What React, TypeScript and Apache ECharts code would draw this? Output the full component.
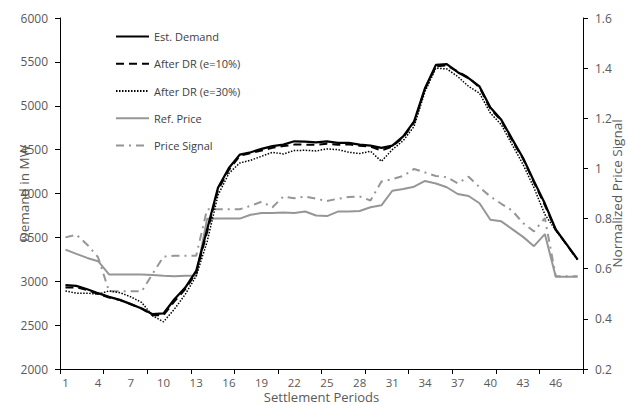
import React, { useEffect, useRef } from "react";
import * as echarts from "echarts";

const periods = ["1","2","3","4","5","6","7","8","9","10","11","12","13","14","15","16","17","18","19","20","21","22","23","24","25","26","27","28","29","30","31","32","33","34","35","36","37","38","39","40","41","42","43","44","45","46","47","48"];

const estDemand = [2955, 2947, 2909, 2864, 2822, 2788, 2739, 2690, 2625, 2633, 2795, 2928, 3117, 3590, 4065, 4290, 4443, 4470, 4508, 4540, 4557, 4595, 4590, 4583, 4595, 4576, 4576, 4557, 4545, 4519, 4545, 4651, 4822, 5200, 5466, 5474, 5383, 5314, 5220, 4980, 4841, 4620, 4405, 4140, 3885, 3590, 3420, 3250];

const afterDR10 = [2930, 2930, 2900, 2855, 2815, 2785, 2738, 2688, 2612, 2615, 2770, 2910, 3100, 3560, 4040, 4270, 4430, 4460, 4490, 4520, 4540, 4557, 4557, 4555, 4568, 4555, 4560, 4545, 4535, 4490, 4535, 4640, 4810, 5190, 5450, 5460, 5390, 5320, 5210, 4965, 4830, 4605, 4395, 4125, 3865, 3585, 3415, 3245];

const afterDR30 = [2890, 2864, 2864, 2852, 2890, 2870, 2822, 2758, 2606, 2538, 2682, 2852, 3060, 3450, 3980, 4230, 4348, 4379, 4424, 4470, 4450, 4490, 4492, 4485, 4508, 4500, 4470, 4455, 4481, 4367, 4500, 4602, 4765, 5163, 5428, 5420, 5333, 5220, 5144, 4917, 4784, 4557, 4330, 4065, 3761, 3580, 3420, 3245];

const refPrice = [0.676, 0.659, 0.643, 0.63, 0.577, 0.577, 0.577, 0.577, 0.575, 0.572, 0.57, 0.572, 0.572, 0.799, 0.8, 0.8, 0.8, 0.815, 0.822, 0.822, 0.824, 0.822, 0.828, 0.812, 0.81, 0.828, 0.828, 0.83, 0.845, 0.853, 0.911, 0.918, 0.927, 0.95, 0.94, 0.925, 0.898, 0.89, 0.861, 0.795, 0.789, 0.758, 0.727, 0.69, 0.738, 0.568, 0.568, 0.568];

const priceSignal = [0.725, 0.736, 0.696, 0.645, 0.51, 0.51, 0.51, 0.51, 0.58, 0.648, 0.652, 0.652, 0.652, 0.837, 0.837, 0.837, 0.837, 0.851, 0.867, 0.845, 0.888, 0.881, 0.888, 0.879, 0.87, 0.879, 0.886, 0.888, 0.872, 0.948, 0.957, 0.97, 0.998, 0.984, 0.97, 0.965, 0.941, 0.967, 0.925, 0.888, 0.859, 0.832, 0.782, 0.749, 0.802, 0.57, 0.57, 0.57];

const FONT = "'Open Sans', 'Noto Sans', sans-serif";
const TXT = "#595959";
const GRAY = "#969696";

export default function App() {
  const ref = useRef<HTMLDivElement>(null);
  useEffect(() => {
    if (!ref.current) return;
    const chart = echarts.init(ref.current, null, { renderer: "svg" });
    const lineSeries = (name: string, data: number[], yAxisIndex: number, color: string, width: number, type: any) => ({
      name,
      type: "line",
      data,
      yAxisIndex,
      symbol: "none",
      showSymbol: false,
      lineStyle: { color, width, type },
      itemStyle: { color },
    });
    chart.setOption({
      animation: false,
      textStyle: { fontFamily: FONT },
      grid: { left: 60, right: 44, top: 18, bottom: 36, containLabel: false, outerBoundsMode: "none" },
      legend: {
        orient: "vertical",
        left: 110,
        top: 26,
        itemWidth: 33,
        itemHeight: 14,
        itemGap: 16,
        itemStyle: { opacity: 0 },
        textStyle: { fontFamily: FONT, fontSize: 11, color: "#404040" },
        data: ["Est. Demand", "After DR (e=10%)", "After DR (e=30%)", "Ref. Price", "Price Signal"],
      },
      xAxis: {
        type: "category",
        data: periods,
        boundaryGap: true,
        name: "Settlement Periods",
        nameLocation: "middle",
        nameGap: 21,
        nameMoveOverlap: false,
        nameTextStyle: { fontFamily: FONT, fontSize: 13, color: TXT },
        axisLine: { show: true, lineStyle: { color: "#000", width: 1 } },
        axisTick: { show: true, interval: 3, length: 5, lineStyle: { color: "#000" } },
        axisLabel: { interval: 2, margin: 8, fontFamily: FONT, fontSize: 11.5, lineHeight: 11, color: TXT },
        splitLine: { show: false },
      },
      yAxis: [
        {
          type: "value",
          min: 2000,
          max: 6000,
          interval: 500,
          name: "Demand in MW",
          nameLocation: "middle",
          nameGap: 29,
          nameMoveOverlap: false,
          nameTextStyle: { fontFamily: FONT, fontSize: 13.5, color: TXT },
          axisLine: { show: true, lineStyle: { color: "#000", width: 1 } },
          axisTick: { show: true, length: 5, lineStyle: { color: "#000" } },
          axisLabel: { margin: 12, fontFamily: FONT, fontSize: 12, color: TXT, formatter: (v: number) => String(v) },
          splitLine: { show: false },
        },
        {
          type: "value",
          min: 0.2,
          max: 1.6,
          interval: 0.2,
          position: "right",
          name: "Normalized Price Signal",
          nameLocation: "middle",
          nameGap: 27,
          nameMoveOverlap: false,
          nameTextStyle: { fontFamily: FONT, fontSize: 13.5, color: TXT },
          axisLine: { show: true, lineStyle: { color: "#000", width: 1 } },
          axisTick: { show: true, length: 5, lineStyle: { color: "#000" } },
          axisLabel: {
            margin: 12,
            fontFamily: FONT,
            fontSize: 12,
            color: TXT,
            formatter: (v: number) => String(Math.round(v * 10) / 10),
          },
          splitLine: { show: false },
        },
      ],
      series: [
        lineSeries("Ref. Price", refPrice, 1, GRAY, 2, "solid"),
        lineSeries("Price Signal", priceSignal, 1, GRAY, 2, [8, 5, 2, 5]),
        lineSeries("After DR (e=30%)", afterDR30, 0, "#000", 1.5, [1.5, 1.5]),
        lineSeries("After DR (e=10%)", afterDR10, 0, "#000", 2, [8, 5]),
        lineSeries("Est. Demand", estDemand, 0, "#000", 2.25, "solid"),
      ],
    });
    return () => chart.dispose();
  }, []);
  return (
    <div
      ref={ref}
      style={{ position: "fixed", left: 0, top: 0, width: 627, height: 405, background: "#fff" }}
    />
  );
}
